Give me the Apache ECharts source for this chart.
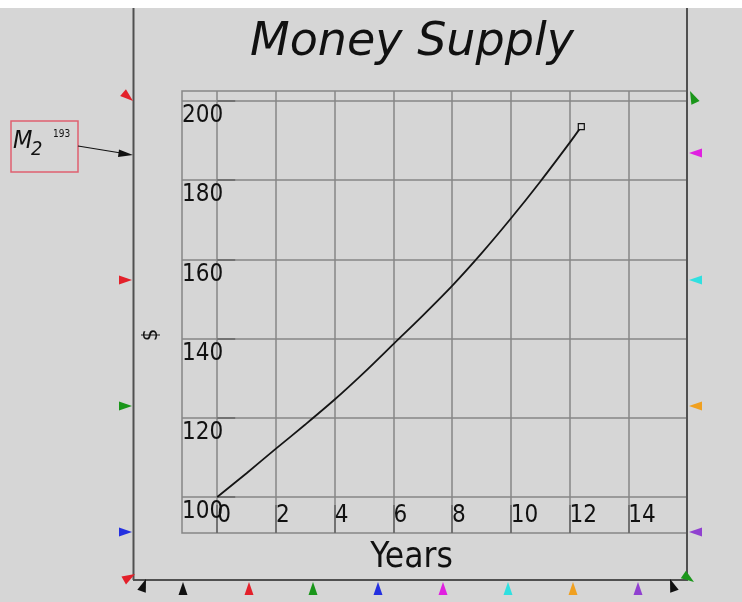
<!DOCTYPE html>
<html>
<head>
<meta charset="utf-8">
<script src="https://cdn.jsdelivr.net/npm/echarts@6/dist/echarts.min.js"></script>
<style>
  html, body { margin: 0; padding: 0; background: #d6d6d6; }
  #chart { width: 742px; height: 602px; }
</style>
</head>
<body>
<div id="chart"></div>
<script>
// values
var years = [0, 1, 2, 3, 4, 5, 6, 7, 8, 9, 10, 11, 12, 12.4];
var money = [100, 106, 112.2, 118.3, 124.6, 131.4, 138.6, 145.8, 153.3, 161.5, 170.3, 179.6, 189.4, 193.5];
var xTicks = [0, 2, 4, 6, 8, 10, 12, 14];
var yTicks = [100, 120, 140, 160, 180, 200];

var FONT = "DejaVu Sans Condensed, DejaVu Sans, sans-serif";
var FONT_WIDE = "DejaVu Sans, sans-serif";

// small coloured triangles round the frame (tip x, tip y, direction in degrees)
function tri(x, y, ang, color) {
  var a = ang * Math.PI / 180, len = 13, hw = 4.5;
  var bx = x - Math.cos(a) * len, by = y - Math.sin(a) * len;
  var px = -Math.sin(a) * hw, py = Math.cos(a) * hw;
  return {
    type: "polygon", z: 110, silent: true,
    shape: { points: [[x, y], [bx + px, by + py], [bx - px, by - py]] },
    style: { fill: color }
  };
}

var marks = [
  tri(133, 101, 40, "#e3202a"),
  tri(132, 280, 0, "#e3202a"),
  tri(132, 406, 0, "#1a961a"),
  tri(132, 532, 0, "#2430e0"),
  tri(135, 574, -30, "#e3202a"),
  tri(690, 91, -115, "#1a961a"),
  tri(689, 153, 180, "#e020e0"),
  tri(689, 280, 180, "#30e0e0"),
  tri(689, 406, 180, "#f0a020"),
  tri(689, 532, 180, "#9040d0"),
  tri(694, 582, 35, "#1a961a"),
  tri(146, 579, -70, "#111111"),
  tri(183, 582, -90, "#111111"),
  tri(249, 582, -90, "#e3202a"),
  tri(313, 582, -90, "#1a961a"),
  tri(378, 582, -90, "#2430e0"),
  tri(443, 582, -90, "#e020e0"),
  tri(508, 582, -90, "#30e0e0"),
  tri(573, 582, -90, "#f0a020"),
  tri(638, 582, -90, "#9040d0"),
  tri(670, 579, -110, "#111111")
];

var frame = [
  { type: "rect", z: 90, silent: true, shape: { x: 0, y: 0, width: 742, height: 8 }, style: { fill: "#ffffff" } },
  { type: "line", z: 100, silent: true, shape: { x1: 133.5, y1: 8, x2: 133.5, y2: 580 }, style: { stroke: "#505050", lineWidth: 2 } },
  { type: "line", z: 100, silent: true, shape: { x1: 687, y1: 8, x2: 687, y2: 580 }, style: { stroke: "#505050", lineWidth: 2 } },
  { type: "line", z: 100, silent: true, shape: { x1: 133, y1: 580, x2: 688, y2: 580 }, style: { stroke: "#505050", lineWidth: 2 } },
  // M2 note with arrow
  { type: "rect", z: 100, silent: true, shape: { x: 11, y: 121, width: 67, height: 51 }, style: { fill: "none", stroke: "#e06070", lineWidth: 1.5 } },
  { type: "text", z: 100, silent: true, style: { x: 13, y: 129, text: "M", font: "italic 25px " + FONT, fill: "#111" } },
  { type: "text", z: 100, silent: true, style: { x: 31, y: 140, text: "2", font: "italic 20px " + FONT, fill: "#111" } },
  { type: "text", z: 100, silent: true, style: { x: 53, y: 129, text: "193", font: "10px " + FONT, fill: "#111" } },
  { type: "line", z: 100, silent: true, shape: { x1: 78, y1: 146, x2: 124, y2: 153.5 }, style: { stroke: "#111", lineWidth: 1.2 } },
  { type: "polygon", z: 100, silent: true, shape: { points: [[133, 155], [119, 149.5], [118, 157]] }, style: { fill: "#111" } }
];

var myChart = echarts.init(document.getElementById("chart"));
var option = {
  backgroundColor: "#d6d6d6",
  animation: false,
  title: {
    text: "Money Supply",
    left: 245,
    top: 15,
    textStyle: { fontFamily: FONT_WIDE, fontStyle: "italic", fontWeight: "normal", fontSize: 46, color: "#111" }
  },
  grid: {
    left: 182, top: 91, right: 55, bottom: 69,
    show: true, borderColor: "#868686", borderWidth: 1.5, backgroundColor: "transparent"
  },
  xAxis: {
    type: "value",
    min: -1.2,
    max: 16,
    name: "Years",
    nameLocation: "middle",
    nameGap: 7,
    nameTextStyle: { fontFamily: FONT, fontSize: 35, color: "#111", verticalAlign: "top", padding: [0, 46, 0, 0] },
    axisLine: { show: false },
    axisTick: { show: true, inside: true, length: 28, customValues: xTicks, lineStyle: { color: "#666", width: 1.5 } },
    axisLabel: {
      inside: true, margin: 5, align: "left", verticalAlign: "bottom",
      customValues: xTicks, fontFamily: FONT, fontSize: 24, color: "#111"
    },
    splitLine: { show: true, lineStyle: { color: "#868686", width: 1.5 } }
  },
  yAxis: {
    type: "value",
    min: 90.9,
    max: 202.5,
    name: "$",
    nameLocation: "middle",
    nameGap: 20,
    nameRotate: 90,
    nameTextStyle: { fontFamily: FONT, fontSize: 22, color: "#111", padding: [0, 46, 0, 0] },
    axisLine: { show: false },
    axisTick: { show: true, inside: true, length: 18, customValues: yTicks, lineStyle: { color: "#666", width: 1.5 } },
    axisLabel: {
      inside: true, margin: 0, align: "left", verticalAlign: "top", padding: [3, 0, 0, 0],
      customValues: yTicks, fontFamily: FONT, fontSize: 24, color: "#111"
    },
    splitLine: { show: true, lineStyle: { color: "#868686", width: 1.5 } }
  },
  series: [
    {
      type: "line",
      smooth: 0.3,
      symbol: "none",
      lineStyle: { color: "#151515", width: 1.8 },
      data: years.map(function (t, i) {
        var p = { value: [t, money[i]] };
        if (i === years.length - 1) {
          p.symbol = "rect";
          p.symbolSize = 6;
          p.itemStyle = { color: "#d6d6d6", borderColor: "#111", borderWidth: 1.2 };
        }
        return p;
      })
    }
  ],
  graphic: frame.concat(marks)
};
myChart.setOption(option);
</script>
</body>
</html>
